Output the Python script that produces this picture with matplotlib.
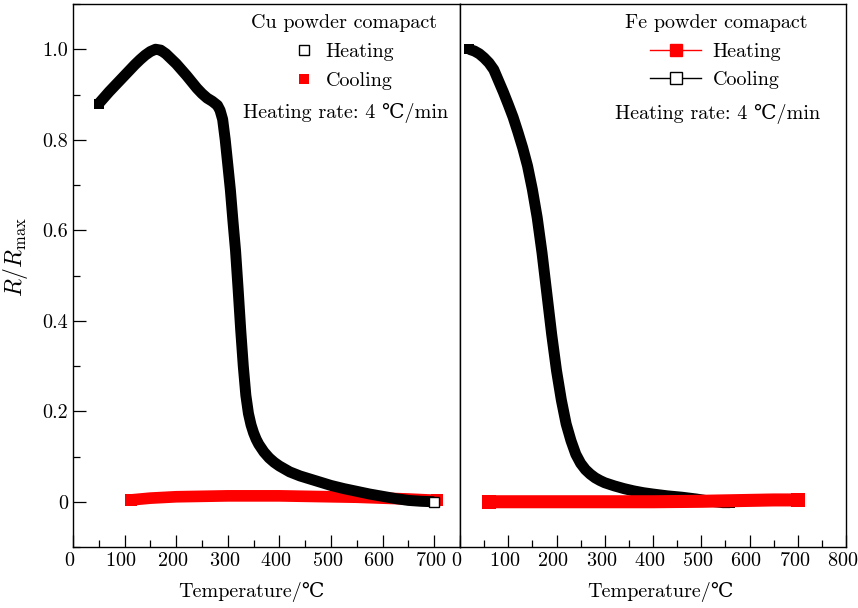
import matplotlib
matplotlib.use("Agg")
import matplotlib.pyplot as plt
import matplotlib.transforms as mtransforms
from matplotlib.lines import Line2D
from matplotlib.ticker import MultipleLocator, FuncFormatter

plt.rcParams['font.family'] = ['cmr10', 'DejaVu Serif', 'DejaVu Sans']
plt.rcParams['mathtext.fontset'] = 'cm'
plt.rcParams['axes.unicode_minus'] = False
plt.rcParams['axes.formatter.use_mathtext'] = True

FS = 14.5

# Cu powder compact: heating run (normalised resistance)
cu_heat_t = [50, 60, 70, 80, 90, 100, 110, 120, 130, 140, 150, 160, 170, 180, 190,
             200, 210, 220, 230, 240, 250, 260, 270, 280, 285, 290, 295, 300, 305,
             310, 315, 320, 325, 330, 335, 340, 345, 350, 355, 360, 370, 380, 390,
             400, 420, 440, 460, 480, 500, 525, 550, 575, 600, 625, 650, 675, 700]
cu_heat_r = [0.880, 0.893, 0.906, 0.918, 0.930, 0.942, 0.954, 0.966, 0.977, 0.987,
             0.995, 1.000, 0.998, 0.990, 0.979, 0.968, 0.955, 0.942, 0.928, 0.914,
             0.902, 0.892, 0.885, 0.876, 0.865, 0.845, 0.800, 0.745, 0.689, 0.620,
             0.555, 0.470, 0.380, 0.300, 0.235, 0.195, 0.170, 0.152, 0.138, 0.127,
             0.110, 0.097, 0.087, 0.079, 0.066, 0.057, 0.050, 0.043, 0.036, 0.029,
             0.023, 0.017, 0.012, 0.007, 0.003, 0.001, 0.000]

# Cu powder compact: cooling run
cu_cool_t = [112, 150, 200, 250, 300, 350, 400, 450, 500, 550, 600, 650, 706]
cu_cool_r = [0.004, 0.008, 0.011, 0.012, 0.013, 0.013, 0.013, 0.012, 0.011,
             0.010, 0.008, 0.006, 0.003]

# Fe powder compact: heating run
fe_heat_t = [60, 100, 200, 300, 400, 500, 600, 650, 700]
fe_heat_r = [0.000, 0.000, 0.000, 0.000, 0.000, 0.001, 0.003, 0.004, 0.004]

# Fe powder compact: cooling run
fe_cool_t = [19, 30, 40, 50, 60, 70, 80, 90, 100, 110, 120, 130, 140, 150, 160,
             170, 180, 190, 200, 210, 220, 230, 240, 250, 260, 270, 280, 290, 300,
             320, 340, 360, 380, 400, 430, 460, 490, 520, 545, 560]
fe_cool_r = [1.000, 0.996, 0.990, 0.981, 0.970, 0.955, 0.930, 0.905, 0.878, 0.850,
             0.817, 0.782, 0.742, 0.690, 0.628, 0.550, 0.460, 0.370, 0.290, 0.225,
             0.172, 0.135, 0.105, 0.085, 0.071, 0.061, 0.053, 0.047, 0.042, 0.035,
             0.029, 0.024, 0.020, 0.017, 0.013, 0.010, 0.006, 0.001, -0.002, -0.002]

RED = '#ff0000'


def band(ax, t, r, color, width, zorder):
    # dense square symbols merge into a solid band; squares only at the ends
    ax.plot(t, r, color=color, lw=width, solid_capstyle='butt',
            solid_joinstyle='round', marker='s', markevery=[0, -1], ms=width,
            mew=0, mfc=color, zorder=zorder)


def style_axis(ax, xmax, show_y):
    ax.set_xlim(0, xmax)
    ax.set_ylim(-0.1, 1.1)
    ax.xaxis.set_major_locator(MultipleLocator(100))
    ax.xaxis.set_minor_locator(MultipleLocator(50))
    ax.yaxis.set_major_locator(MultipleLocator(0.2))
    ax.yaxis.set_minor_locator(MultipleLocator(0.1))
    ax.yaxis.set_major_formatter(
        FuncFormatter(lambda v, p: '0' if abs(v) < 1e-9 else f'{v:.1f}'))
    ax.tick_params(which='both', direction='in', top=False, right=False,
                   labelsize=FS, width=0.9)
    ax.tick_params(which='major', length=9)
    ax.tick_params(which='minor', length=5)
    if not show_y:
        ax.tick_params(axis='y', which='both', left=False, labelleft=False)
    for s in ax.spines.values():
        s.set_linewidth(1.0)
    ax.set_xlabel('Temperature/℃', fontsize=FS)
    shift = mtransforms.ScaledTranslation(-0.035, 0, fig.dpi_scale_trans)
    for lab in ax.get_xticklabels():
        lab.set_transform(lab.get_transform() + shift)


fig = plt.figure(figsize=(8.58, 6.08), dpi=100)
ax1 = fig.add_axes([73 / 858, 1 - 547 / 608, 387 / 858, 543 / 608])
ax2 = fig.add_axes([460 / 858, 1 - 547 / 608, 386 / 858, 543 / 608])

# left panel: Cu
band(ax1, cu_cool_t, cu_cool_r, RED, 8.4, 2)
band(ax1, cu_heat_t, cu_heat_r, 'black', 7.9, 3)
ax1.plot(cu_heat_t[-1:], cu_heat_r[-1:], ls='none', marker='s', ms=7.0,
         mfc='white', mec='black', mew=1.0, zorder=4)
style_axis(ax1, 750, True)
ax1.set_ylabel(r'$R/R_{\rm max}$', fontsize=17)
ax1.yaxis.set_label_coords(-0.11, 0.535)
ax1.xaxis.set_label_coords(0.46, -0.064)

h1 = [Line2D([], [], ls='none', marker='s', ms=7, mfc='white', mec='black', mew=1.0),
      Line2D([], [], ls='none', marker='s', ms=7.5, mfc=RED, mec=RED, mew=0)]
ax1.legend(h1, ['Heating', 'Cooling'], title='Cu powder comapact',
           loc='upper center', bbox_to_anchor=(0.70, 1.0), frameon=False,
           fontsize=FS, title_fontsize=FS, alignment='center',
           handlelength=1.0, handletextpad=0.6, labelspacing=0.55,
           borderpad=0.0)
ax1.text(0.705, 0.799, 'Heating rate: 4 ℃/min', transform=ax1.transAxes,
         ha='center', va='center', fontsize=FS)

# right panel: Fe
band(ax2, fe_cool_t, fe_cool_r, 'black', 7.9, 2)
band(ax2, fe_heat_t, fe_heat_r, RED, 9.4, 3)
style_axis(ax2, 800, False)
ax2.xaxis.set_label_coords(0.52, -0.064)

h2 = [Line2D([], [], color=RED, lw=1.0, marker='s', ms=8.5, mfc=RED, mec=RED),
      Line2D([], [], color='black', lw=1.0, marker='s', ms=8.5, mfc='white',
             mec='black', mew=1.0)]
ax2.legend(h2, ['Heating', 'Cooling'], title='Fe powder comapact',
           loc='upper center', bbox_to_anchor=(0.663, 1.0), frameon=False,
           fontsize=FS, title_fontsize=FS, alignment='center',
           handlelength=2.5, handletextpad=0.6, labelspacing=0.52,
           borderpad=0.0)
ax2.text(0.666, 0.797, 'Heating rate: 4 ℃/min', transform=ax2.transAxes,
         ha='center', va='center', fontsize=FS)

fig.savefig('out.png', dpi=100)
